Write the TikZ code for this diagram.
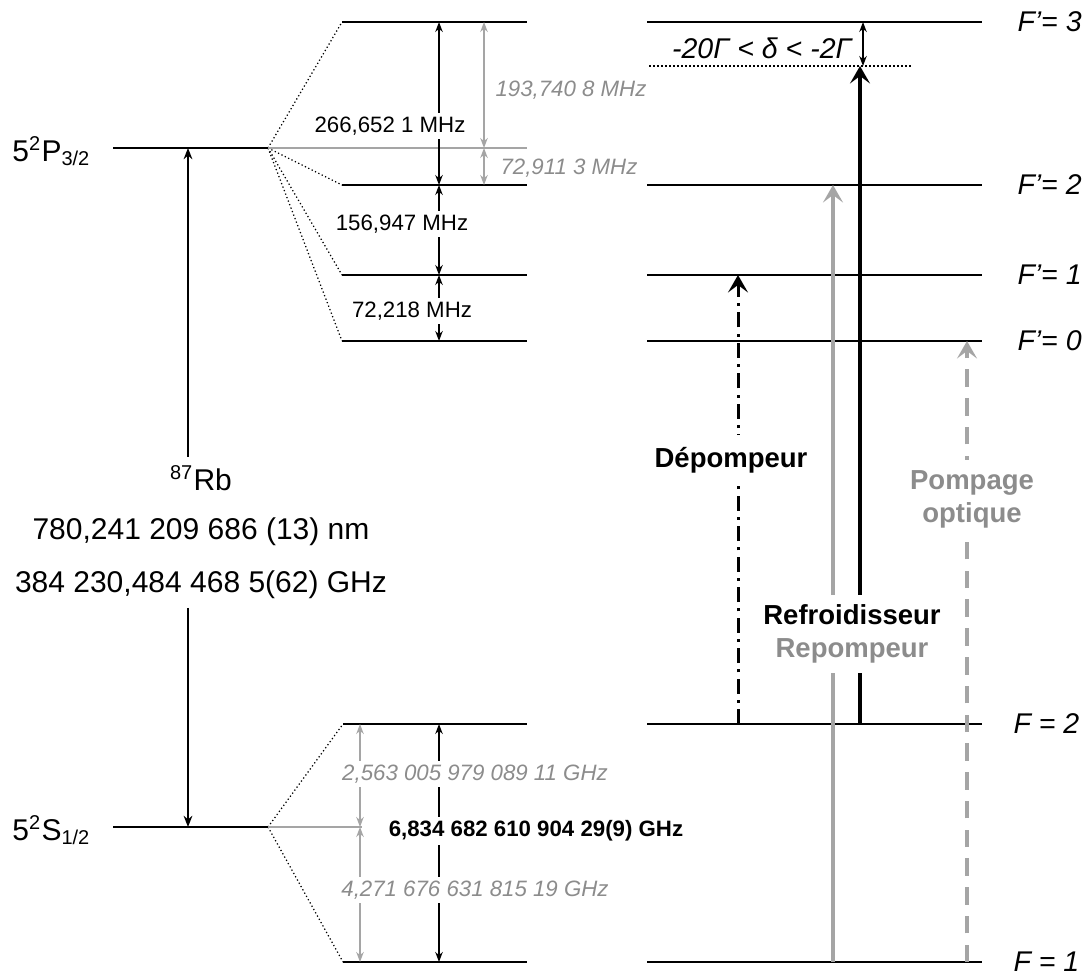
\documentclass[tikz,border=0pt]{standalone}
\usepackage{fontspec}
\setmainfont{Liberation Sans}
\usepackage{xcolor}
\usetikzlibrary{arrows.meta}

\definecolor{lgray}{RGB}{165,165,165}
\definecolor{tgray}{RGB}{140,140,140}

\tikzset{
  lvl/.style={line width=0.8pt},
  fanline/.style={densely dotted,line width=0.5pt},
  gline/.style={lgray,line width=0.6pt},
  gapfill/.style={fill=white,inner sep=1.5pt},
  splitarr/.style={{Stealth[length=4pt,width=3pt]}-{Stealth[length=4pt,width=3pt]},line width=0.6pt},
  d2arr/.style={-{Stealth[length=4.5pt,width=3.5pt]},line width=0.7pt},
  laser/.style={-{Stealth[length=7pt,width=8pt,inset=3pt]}},
  txtbig/.style={font=\fontsize{12}{14}\selectfont},
  txtsmall/.style={font=\fontsize{8.9}{10.5}\selectfont},
  grayit/.style={text=tgray,font=\fontsize{8.9}{10.5}\selectfont\itshape},
  txtF/.style={font=\fontsize{11.4}{13}\selectfont\itshape},
  txtlaser/.style={font=\fontsize{11}{13.2}\selectfont\bfseries,align=center},
}

\begin{document}
\begin{tikzpicture}[x=0.4pt,y=-0.4pt]
\useasboundingbox (0,0) rectangle (1088,973);

% fine structure
\coordinate (P0) at (113,148);
\coordinate (P1) at (268,148);
\coordinate (S0) at (113,827);
\coordinate (S1) at (268,827);
\coordinate (xD) at (188,0);
\draw[lvl] (P0) -- (P1);
\draw[lvl] (S0) -- (S1);
\node[txtbig,anchor=base west,inner sep=0] (Plab) at (12,161) {5\textsuperscript{2}P\textsubscript{3/2}};
\node[txtbig,anchor=base west,inner sep=0] (Slab) at (12,840) {5\textsuperscript{2}S\textsubscript{1/2}};

\node[txtbig] (rb) at (201,478) {\textsuperscript{87}Rb};
\node[txtbig] (lam) at (201,532) {780,241 209 686 (13) nm};
\node[txtbig] (nu) at (201,585) {384 230,484 468 5(62) GHz};
\draw[d2arr] (rb.north -| xD) -- (xD |- P1);
\draw[d2arr] (nu.south -| xD) -- (xD |- S1);

% hyperfine levels 5P3/2
\foreach \n/\y in {3/22,2/185,1/275,0/341}{
  \coordinate (a\n) at (342,\y);
  \coordinate (b\n) at (527,\y);
  \coordinate (c\n) at (647,\y);
  \coordinate (d\n) at (982,\y);
  \draw[lvl] (a\n) -- (b\n);
  \draw[lvl] (c\n) -- (d\n);
  \draw[fanline] (P1) -- (a\n);
  \node[txtF,anchor=west,inner sep=0] (Fp\n) at (1017,\y) {F’= \n};
}
% hyperfine levels 5S1/2
\foreach \n/\y in {2/724,1/962}{
  \coordinate (e\n) at (343,\y);
  \coordinate (f\n) at (527,\y);
  \coordinate (g\n) at (647,\y);
  \coordinate (h\n) at (982,\y);
  \draw[lvl] (e\n) -- (f\n);
  \draw[lvl] (g\n) -- (h\n);
  \draw[fanline] (S1) -- (e\n);
  \node[txtF,anchor=west,inner sep=0] (F\n) at (1013,\y) {F = \n};
}
\coordinate (Pm) at (527,148);
\coordinate (Sm) at (362,827);
\draw[gline] (P1) -- (Pm);
\draw[gline] (S1) -- (Sm);

% splittings
\coordinate (xk) at (439,0);
\coordinate (xg) at (484,0);
\coordinate (xs) at (360,0);
\draw[splitarr] (xk |- a3) -- (xk |- a2);
\draw[splitarr] (xk |- a2) -- (xk |- a1);
\draw[splitarr] (xk |- a1) -- (xk |- a0);
\draw[splitarr,lgray] (xg |- a3) -- (xg |- Pm);
\draw[splitarr,lgray] (xg |- Pm) -- (xg |- a2);
\node[txtsmall,gapfill] (n266) at (390,126) {266,652 1 MHz};
\node[txtsmall,gapfill] (n156) at (402,224) {156,947 MHz};
\node[txtsmall,gapfill] (n72) at (412,311) {72,218 MHz};
\node[grayit] (n193) at (571,90) {193,740 8 MHz};
\node[grayit] (n729) at (569,168) {72,911 3 MHz};

\draw[splitarr,lgray] (xs |- e2) -- (xs |- Sm);
\draw[splitarr,lgray] (xs |- Sm) -- (xs |- e1);
\draw[splitarr] (xk |- e2) -- (xk |- e1);
\node[grayit,gapfill] (n2563) at (475,774) {2,563 005 979 089 11 GHz};
\node[txtsmall,gapfill,font=\fontsize{8.9}{10.5}\selectfont\bfseries] (n6834) at (536,831) {6,834 682 610 904 29(9) GHz};
\node[grayit,gapfill] (n4271) at (475,890) {4,271 676 631 815 19 GHz};

% lasers
\coordinate (det0) at (649,66);
\coordinate (det1) at (912,66);
\coordinate (xc) at (860,0);
\coordinate (xr) at (833,0);
\coordinate (xp) at (738,0);
\coordinate (xo) at (967,0);
\coordinate (xdd) at (863,0);
\draw[densely dotted,line width=0.6pt] (det0) -- (det1);
\draw[splitarr] (xdd |- det0) -- (xdd |- c3);
\node[txtF] (delta) at (762,48) {-20Γ < δ < -2Γ};

\draw[laser,lgray,line width=1.3pt] (xr |- g1) -- (xr |- c2);
\draw[laser,line width=1.5pt] (xc |- g2) -- (xc |- det0);
\draw[laser,line width=1.2pt,dash pattern=on 6pt off 2.5pt on 1.2pt off 2.5pt] (xp |- g2) -- (xp |- c1);
\draw[laser,lgray,line width=1.3pt,dash pattern=on 7pt off 4.5pt] (xo |- g1) -- (xo |- c0);

\node[txtlaser,fill=white,inner xsep=1pt,inner ysep=4pt] (cool) at (852,634) {Refroidisseur\\\textcolor{tgray}{Repompeur}};
\node[txtlaser,fill=white,inner xsep=1pt,inner ysep=5pt] (dep) at (731,460) {Dépompeur};
\node[txtlaser,text=tgray,fill=white,inner xsep=1pt,inner ysep=4pt] (pomp) at (972,499) {Pompage\\optique};

\end{tikzpicture}
\end{document}
